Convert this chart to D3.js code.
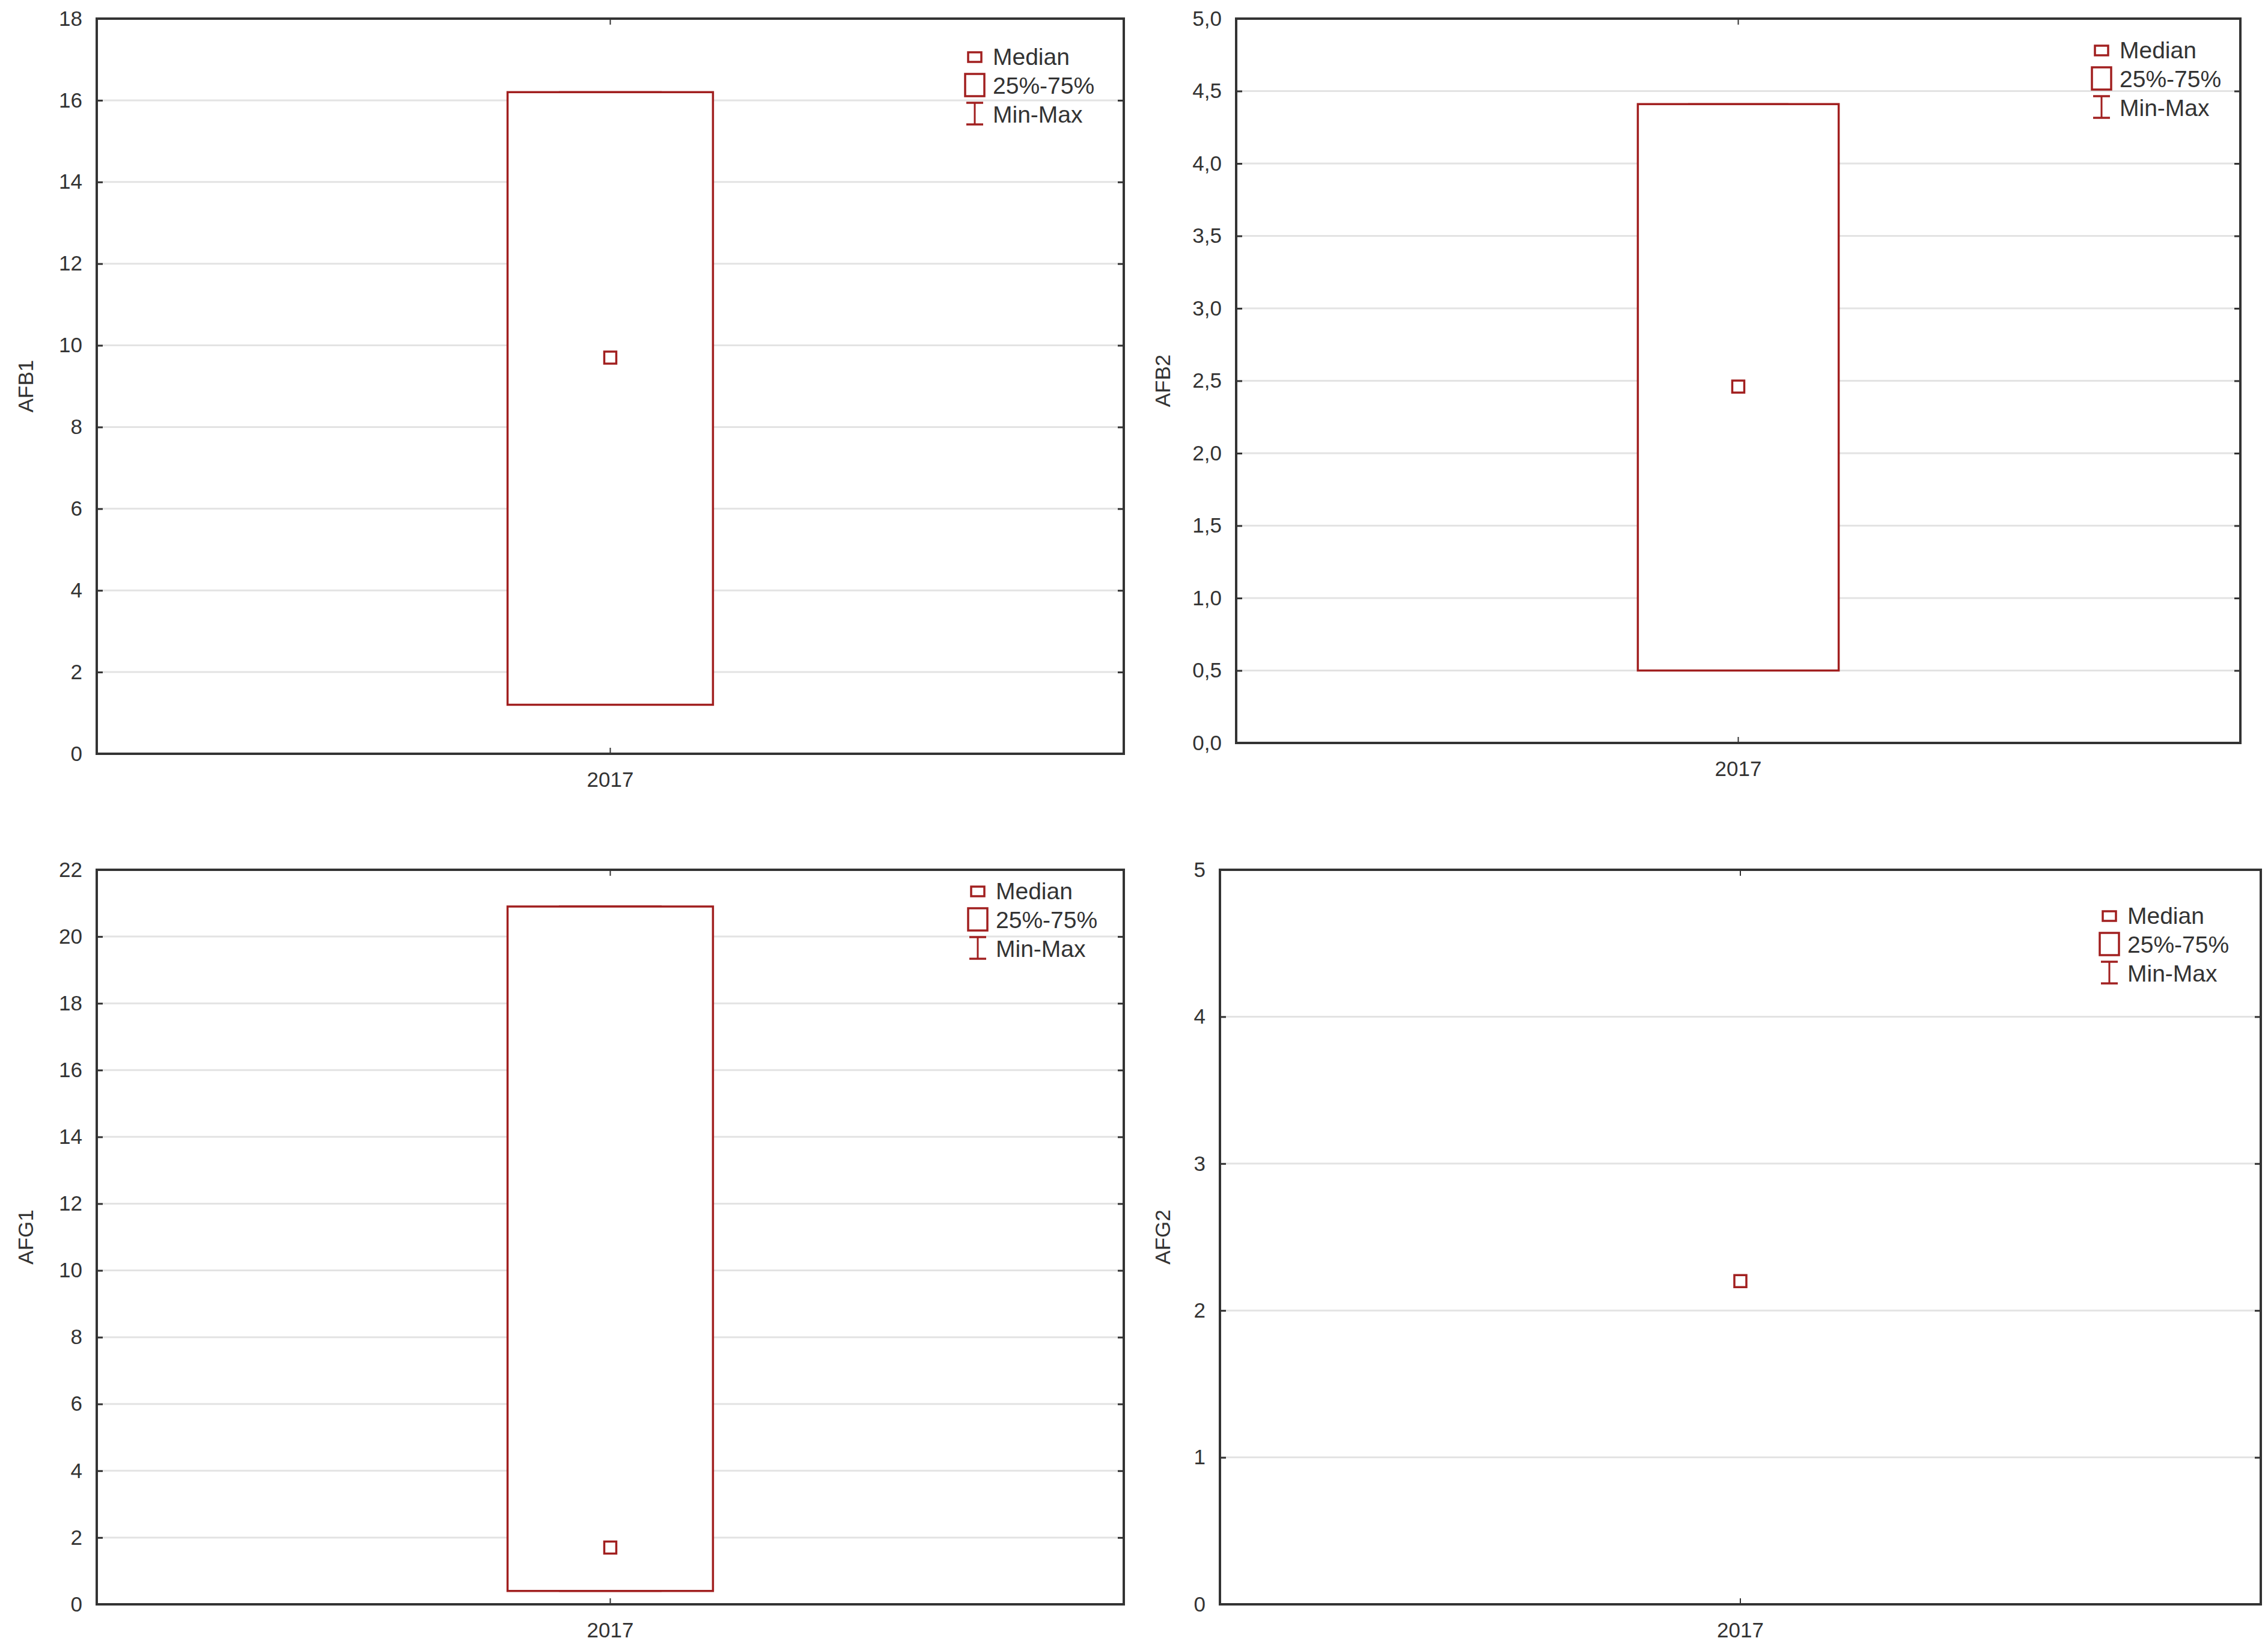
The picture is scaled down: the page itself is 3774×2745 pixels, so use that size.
<!DOCTYPE html>
<html>
<head>
<meta charset="utf-8">
<script src="https://cdnjs.cloudflare.com/ajax/libs/d3/7.8.5/d3.min.js"></script>
<style>
	body { margin: 0; background: #fff; }
	svg { display: block; font-family: "Liberation Sans", Arial, sans-serif; }
</style>
</head>
<body>
<svg width="3774" height="2745"></svg>
<script>
var svg = d3.select("svg");

// values
let variables = ["AFB1", "AFB2", "AFG1", "AFG2"];
let years = ["2017"];
let medians = [9.7, 2.46, 1.7, 2.2];
let q1 = [1.2, 0.5, 0.4, 2.2];
let q3 = [16.2, 4.41, 20.9, 2.2];
let mins = [1.2, 0.5, 0.4, 2.2];
let maxs = [16.2, 4.41, 20.9, 2.2];
let y_max = [18, 5, 22, 5];
let y_step = [2, 0.5, 2, 1];
let y_decimals = [0, 1, 0, 0];
let legend_labels = ["Median", "25%-75%", "Min-Max"];

// panel frames in page pixels
let frames = [
	{left: 161, right: 1870, top: 31, bottom: 1254, legX: 248, legY: 64, titleX: 43},
	{left: 2057, right: 3728, top: 31, bottom: 1236, legX: 231, legY: 53, titleX: 1935},
	{left: 161, right: 1870, top: 1447, bottom: 2669, legX: 243, legY: 36, titleX: 43},
	{left: 2030, right: 3762, top: 1447, bottom: 2669, legX: 252, legY: 77, titleX: 1935}
];

let red = "#a11f1f",
	ink = "#333333",
	grid = "#e3e3e3";

function draw_panel(i) {
	let f = frames[i];
	let width = f.right - f.left,
		height = f.bottom - f.top;

	let x = d3.scaleBand()
		.domain(years)
		.range([0, width])
		.paddingInner(0)
		.paddingOuter(0);
	let y = d3.scaleLinear()
		.domain([0, y_max[i]])
		.range([height, 0]);

	let ticks = d3.range(0, y_max[i] + y_step[i] / 2, y_step[i]);
	let fmt = function(d) { return d.toFixed(y_decimals[i]).replace(".", ","); };

	let g = svg.append("g")
		.attr("transform", "translate(" + f.left + "," + f.top + ")");

	// gridlines
	g.selectAll(".grid")
		.data(ticks.filter(function(d) { return d > 0 && d < y_max[i]; }))
		.enter()
		.append("line")
		.attr("x1", 0)
		.attr("x2", width)
		.attr("y1", function(d) { return y(d); })
		.attr("y2", function(d) { return y(d); })
		.style("stroke", grid)
		.style("stroke-width", 3);

	// left axis, ticks inside
	let yAxis = d3.axisLeft(y)
		.tickValues(ticks)
		.tickFormat(fmt)
		.tickSizeInner(-10)
		.tickSizeOuter(0)
		.tickPadding(24);
	let ya = g.append("g").call(yAxis);
	ya.select(".domain").remove();
	ya.selectAll("line").style("stroke", ink).style("stroke-width", 3);
	ya.selectAll("text")
		.style("font-size", "35px")
		.style("fill", ink);

	// right side ticks
	let yRight = d3.axisRight(y)
		.tickValues(ticks)
		.tickFormat("")
		.tickSizeInner(-10)
		.tickSizeOuter(0);
	let yr = g.append("g")
		.attr("transform", "translate(" + width + ",0)")
		.call(yRight);
	yr.select(".domain").remove();
	yr.selectAll("line").style("stroke", ink).style("stroke-width", 3);

	// bottom axis
	let xAxis = d3.axisBottom(x)
		.tickSizeInner(-10)
		.tickSizeOuter(0)
		.tickPadding(30);
	let xa = g.append("g")
		.attr("transform", "translate(0," + height + ")")
		.call(xAxis);
	xa.select(".domain").remove();
	xa.selectAll("line").style("stroke", ink).style("stroke-width", 2);
	xa.selectAll("text")
		.style("font-size", "35px")
		.style("fill", ink);

	let xTop = d3.axisTop(x)
		.tickFormat("")
		.tickSizeInner(-10)
		.tickSizeOuter(0);
	let xt = g.append("g").call(xTop);
	xt.select(".domain").remove();
	xt.selectAll("line").style("stroke", ink).style("stroke-width", 2);

	// frame
	g.append("rect")
		.attr("width", width)
		.attr("height", height)
		.attr("fill", "none")
		.style("stroke", ink)
		.style("stroke-width", 4);

	// box, whiskers, median
	let cx = x(years[0]) + x.bandwidth() / 2;
	let box_w = width * 0.2;

	if (maxs[i] > mins[i]) {
		g.append("line")
			.attr("x1", cx).attr("x2", cx)
			.attr("y1", y(maxs[i])).attr("y2", y(mins[i]))
			.style("stroke", red).style("stroke-width", 3);
		[mins[i], maxs[i]].forEach(function(v) {
			g.append("line")
				.attr("x1", cx - box_w / 4).attr("x2", cx + box_w / 4)
				.attr("y1", y(v)).attr("y2", y(v))
				.style("stroke", red).style("stroke-width", 3);
		});
	}

	if (q3[i] > q1[i]) {
		g.append("rect")
			.attr("x", cx - box_w / 2)
			.attr("y", y(q3[i]))
			.attr("width", box_w)
			.attr("height", y(q1[i]) - y(q3[i]))
			.attr("fill", "#fff")
			.style("stroke", red)
			.style("stroke-width", 3.5);
	}

	g.append("rect")
		.attr("x", cx - 10)
		.attr("y", y(medians[i]) - 10)
		.attr("width", 20)
		.attr("height", 20)
		.attr("fill", "none")
		.style("stroke", red)
		.style("stroke-width", 3.5);

	// y title
	svg.append("text")
		.attr("transform", "translate(" + f.titleX + "," + (f.top + height / 2) + ") rotate(-90)")
		.attr("text-anchor", "middle")
		.attr("dy", "0.35em")
		.style("font-size", "35px")
		.style("fill", ink)
		.text(variables[i]);

	// legend
	let lg = g.append("g")
		.attr("transform", "translate(" + (width - f.legX) + "," + f.legY + ")");
	lg.append("rect")
		.attr("x", -11).attr("y", -8)
		.attr("width", 22).attr("height", 16)
		.attr("fill", "none")
		.style("stroke", red).style("stroke-width", 3.5);
	lg.append("rect")
		.attr("x", -16).attr("y", 28)
		.attr("width", 32).attr("height", 37)
		.attr("fill", "none")
		.style("stroke", red).style("stroke-width", 3.5);
	lg.append("line")
		.attr("x1", 0).attr("x2", 0).attr("y1", 76).attr("y2", 112)
		.style("stroke", red).style("stroke-width", 3);
	[76, 112].forEach(function(v) {
		lg.append("line")
			.attr("x1", -14).attr("x2", 14).attr("y1", v).attr("y2", v)
			.style("stroke", red).style("stroke-width", 3.5);
	});
	lg.selectAll(".legtext")
		.data(legend_labels)
		.enter()
		.append("text")
		.attr("x", 30)
		.attr("y", function(d, k) { return 13 + k * 48; })
		.style("font-size", "39px")
		.style("fill", ink)
		.text(function(d) { return d; });
}

variables.forEach(function(v, i) { draw_panel(i); });
</script>
</body>
</html>
